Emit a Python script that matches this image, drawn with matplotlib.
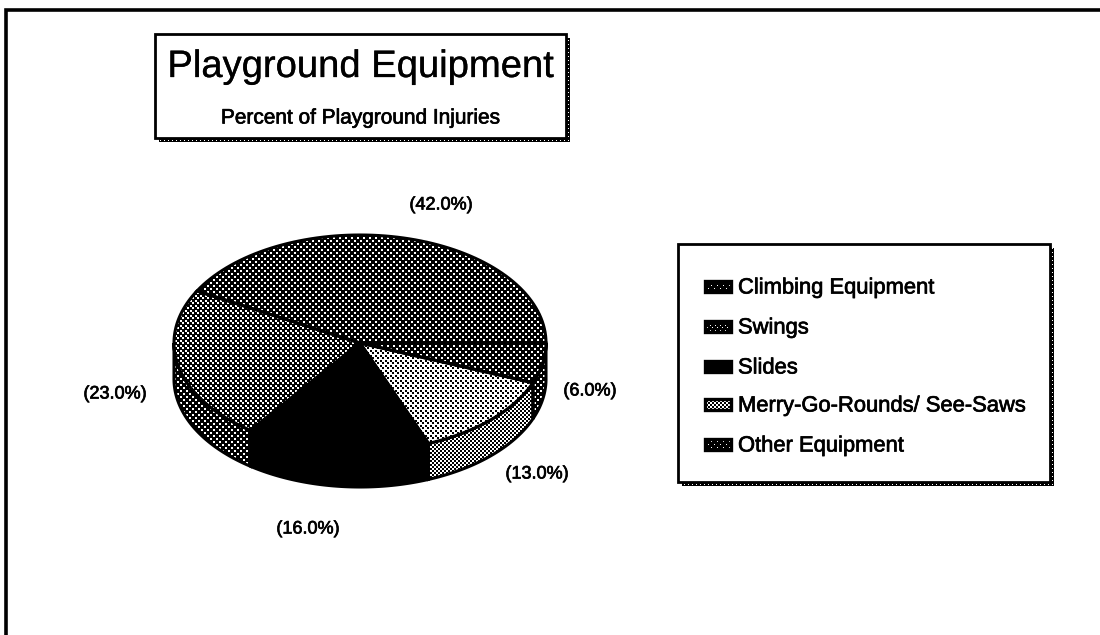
import numpy as np
import matplotlib
matplotlib.use("Agg")
import matplotlib.pyplot as plt
import matplotlib.patheffects as pe
from matplotlib.patches import Polygon, Rectangle

categories = ["Climbing Equipment", "Swings", "Slides", "Merry-Go-Rounds/ See-Saws", "Other Equipment"]
shares = [42.0, 23.0, 16.0, 13.0, 6.0]
title = "Playground Equipment"
subtitle = "Percent of Playground Injuries"

W, H = 1100, 635
CX, CY, RX, RY, DEPTH = 360, 343, 186, 108, 36

plt.rcParams["font.family"] = ["Liberation Sans", "DejaVu Sans"]

fig = plt.figure(figsize=(W / 100, H / 100), dpi=100)
ax = fig.add_axes([0, 0, 1, 1])
ax.set_xlim(0, W)
ax.set_ylim(H, 0)
ax.axis("off")


def stipple(fg, bg, size, dot):
    # halftone cell with two dots, tiled over the whole canvas
    half = size // 2
    cell = np.full((size, size), float(bg))
    cell[:dot, :dot] = fg
    cell[half:half + dot, half:half + dot] = fg
    return np.tile(cell, (H // size + 1, W // size + 1))[:H, :W]


top_fill = [
    stipple(1, 0, 6, 2),
    stipple(1, 0, 5, 2),
    np.zeros((H, W)),
    stipple(0, 1, 5, 2),
    stipple(1, 0, 6, 2),
]
side_fill = [
    stipple(1, 0, 6, 2),
    stipple(1, 0, 6, 2),
    np.zeros((H, W)),
    stipple(1, 0, 4, 2),
    stipple(1, 0, 6, 2),
]
swatch_fill = [
    stipple(1, 0, 6, 1),
    stipple(1, 0, 5, 1),
    np.zeros((H, W)),
    stipple(1, 0, 4, 2),
    stipple(1, 0, 6, 1),
]
shadow_fill = stipple(1, 0, 4, 1)


def filled(patch, tex, z):
    ax.add_patch(patch)
    patch.set_zorder(z + 0.5)
    im = ax.imshow(tex, cmap="gray", vmin=0, vmax=1, extent=(0, W, H, 0),
                   interpolation="nearest", aspect="auto", zorder=z)
    im.set_clip_path(patch)


def arc(a0, a1, dy=0):
    t = np.radians(np.linspace(a0, a1, 80))
    return np.column_stack([CX + RX * np.cos(t), CY - RY * np.sin(t) + dy])


def boxed(x0, y0, x1, y1):
    shadow = Rectangle((x0 + 4, y0 + 4), x1 - x0, y1 - y0, fc="none", ec="none")
    filled(shadow, shadow_fill, 1)
    ax.add_patch(Rectangle((x0, y0), x1 - x0, y1 - y0, fc="white", ec="black", lw=2, zorder=2))


def label(x, y, s, size, ha="center", stroke=0.5):
    t = ax.text(x, y, s, fontsize=size, ha=ha, va="center", color="black", zorder=6)
    t.set_path_effects([pe.withStroke(linewidth=stroke, foreground="black")])


# page frame, open on the right and at the bottom
ax.plot([5.5, 5.5, W], [H, 10, 10], color="black", lw=2.6, solid_joinstyle="miter", zorder=1)

# pie from the shares, counterclockwise from 3 o'clock
edges = np.concatenate([[0], np.cumsum(shares)]) / sum(shares) * 360
for i in range(len(shares)):
    a0, a1 = edges[i], edges[i + 1]
    lo, hi = max(a0, 180), min(a1, 360)
    if lo < hi:
        wall = np.vstack([arc(lo, hi), arc(lo, hi, DEPTH)[::-1]])
        filled(Polygon(wall, closed=True, fc="none", ec="black", lw=2.2), side_fill[i], 3)
for i in range(len(shares)):
    pts = np.vstack([[[CX, CY]], arc(edges[i], edges[i + 1])])
    filled(Polygon(pts, closed=True, fc="none", ec="black", lw=2.2), top_fill[i], 4)

label_pos = [(441, 205), (590, 391), (537, 474), (308, 529), (115, 394)]
label_order = [0, 4, 3, 2, 1]
for (x, y), i in zip(label_pos, label_order):
    label(x, y, f"({shares[i]:.1f}%)", 13)

# title box
boxed(155, 34, 566, 138)
label(361, 67, title, 27.5, stroke=0.2)
label(361, 118, subtitle, 15)

# legend box
boxed(678, 244, 1050, 482)
legend_y = [288, 328, 368, 406, 446]
for name, y, tex in zip(categories, legend_y, swatch_fill):
    filled(Rectangle((705, y - 7), 26, 11, fc="none", ec="black", lw=2.4), tex, 4)
    label(738, y, name, 15.8, ha="left")

fig.savefig("out.png", dpi=100)
